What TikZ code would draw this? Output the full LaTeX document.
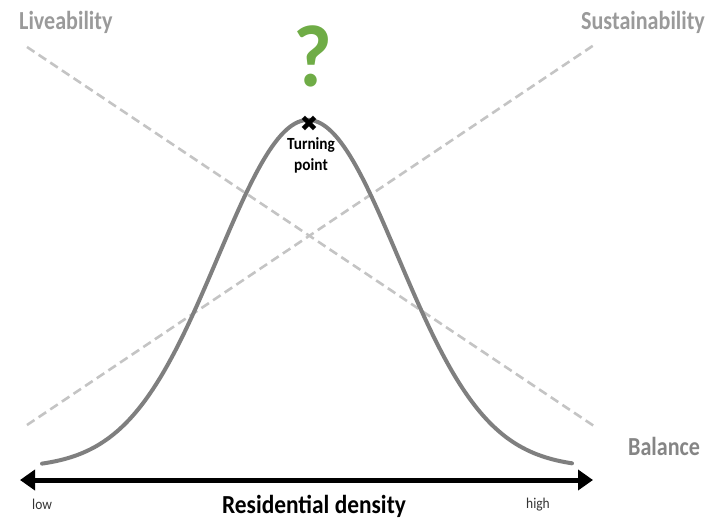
\documentclass[tikz,border=0pt]{standalone}
\usepackage{fontspec}
\setmainfont{Carlito}
\newfontfamily\symfont{DejaVu Sans}
\usetikzlibrary{arrows.meta}
\definecolor{labelgray}{HTML}{9A9A9A}
\definecolor{balgray}{HTML}{858585}
\definecolor{dashgray}{HTML}{C4C4C4}
\definecolor{curvegray}{HTML}{7F7F7F}
\definecolor{qgreen}{HTML}{6FAC46}
\definecolor{smalltext}{HTML}{333333}
\tikzset{
  trendline/.style={draw=dashgray, line width=2.6pt, dash pattern=on 9pt off 5pt},
  bellcurve/.style={draw=curvegray, line width=4pt, line cap=round},
  axisline/.style={draw=black, line width=5pt, {Triangle[length=15pt,width=20pt]}-{Triangle[length=15pt,width=20pt]}},
  biglabel/.style={font=\fontsize{26}{30}\selectfont\bfseries, xscale=0.85, inner sep=0pt},
  endlabel/.style={font=\fontsize{15}{18}\selectfont, text=smalltext, xscale=0.9, inner sep=0pt},
}
\begin{document}
\begin{tikzpicture}[x=1pt, y=-1pt]
  \useasboundingbox (0,0) rectangle (706,522);

  % dashed trend lines
  \coordinate (liveTop) at (27,47);
  \coordinate (liveEnd) at (594,426);
  \coordinate (sustLow) at (27,425);
  \coordinate (sustTop) at (594,45);
  \draw[trendline] (liveTop) -- (liveEnd);
  \draw[trendline] (sustLow) -- (sustTop);

  % bell curve
  \draw[bellcurve] plot[domain=42:572, samples=120, smooth]
    ({\x}, {468 - 348*exp(-0.5*((\x-308)/90)^2)});

  % axis
  \coordinate (axL) at (20,480);
  \coordinate (axR) at (593,480);
  \draw[axisline] (axL) -- (axR);

  % labels
  \node[biglabel, text=labelgray, anchor=base west] (live) at (19,29) {Liveability};
  \node[biglabel, text=labelgray, anchor=base east] (sust) at (705,29) {Sustainability};
  \node[biglabel, text=balgray, anchor=base west] (bal) at (628,455) {Balance};
  \node[font=\fontsize{88}{90}\selectfont\bfseries, text=qgreen, xscale=0.95, inner sep=0pt] (q) at (313,56) {?};

  \node[font=\symfont\fontsize{22}{24}\selectfont, inner sep=0pt] (tp) at (309,124) {✖};
  \node[font=\fontsize{17}{21}\selectfont\bfseries, xscale=0.9, align=center, inner sep=0pt, anchor=north] (tptext) at (311,137) {Turning\\point};

  \node[endlabel, anchor=base west] (low) at (32,509) {low};
  \node[endlabel, anchor=base west] (high) at (526,508) {high};
  \node[font=\fontsize{26}{30}\selectfont\bfseries, xscale=0.9, inner sep=0pt, anchor=base] (dens) at (314,513) {Residential density};
\end{tikzpicture}
\end{document}
